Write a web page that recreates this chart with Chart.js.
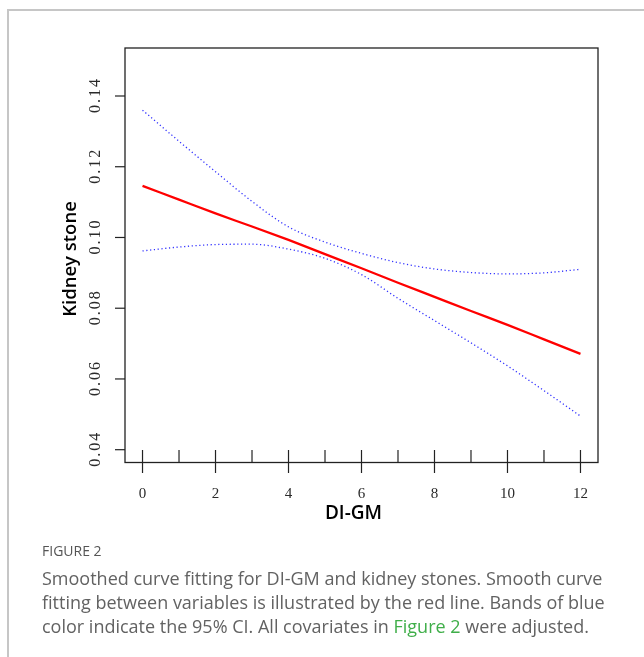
<!DOCTYPE html>
<html lang="en">
<head>
  <meta charset="UTF-8">
  <title>DI-GM and kidney stones</title>
  <script src="https://cdn.jsdelivr.net/npm/chart.js"></script>
  <style>
    html, body {
      margin: 0;
      padding: 0;
      background: #fff;
      width: 644px;
      height: 657px;
      overflow: hidden;
    }
    .frame {
      position: absolute;
      left: 7px;
      top: 9px;
      width: 700px;
      height: 700px;
      border-left: 2px solid #c6c6c6;
      border-top: 2px solid #c6c6c6;
    }
    #chart {
      position: absolute;
      left: 0;
      top: 0;
    }
    .caption {
      position: absolute;
      left: 42px;
      top: 541px;
      width: 600px;
      font-family: 'Open Sans', sans-serif;
      color: #626262;
    }
    .caption .label {
      font-size: 14px;
      line-height: 20px;
      color: #555;
    }
    .caption p {
      margin: 5px 0 0 0;
      font-size: 18px;
      line-height: 24px;
      font-weight: 400;
    }
    .caption a {
      color: #3fae49;
      text-decoration: none;
    }
  </style>
</head>
<body>
  <div class="frame"></div>
  <canvas id="chart" width="644" height="657"></canvas>

  <div class="caption">
    <div class="label">FIGURE 2</div>
    <p>Smoothed curve fitting for DI-GM and kidney stones. Smooth curve<br>
      fitting between variables is illustrated by the red line. Bands of blue<br>
      color indicate the 95% CI. All covariates in <a>Figure 2</a> were adjusted.</p>
  </div>

  <script>
    // values
    const diGm = [0, 1, 2, 3, 4, 5, 6, 7, 8, 9, 10, 11, 12];
    const fitted = [0.1146, 0.1107, 0.1068, 0.1031, 0.0993, 0.0953, 0.0913, 0.0872, 0.0832, 0.0792, 0.0753, 0.0712, 0.0671];
    const upperCI = [0.1360, 0.1272, 0.1186, 0.1102, 0.1030, 0.0987, 0.0955, 0.0929, 0.0911, 0.0901, 0.0897, 0.0900, 0.0910];
    const lowerCI = [0.0962, 0.0973, 0.0980, 0.0981, 0.0967, 0.0941, 0.0895, 0.0828, 0.0765, 0.0702, 0.0637, 0.0567, 0.0495];

    const xTicks = [0, 1, 2, 3, 4, 5, 6, 7, 8, 9, 10, 11, 12];
    const xTickLabels = ['0', '', '2', '', '4', '', '6', '', '8', '', '10', '', '12'];
    const yTicks = [0.04, 0.06, 0.08, 0.10, 0.12, 0.14];
    const yTickLabels = ['0.04', '0.06', '0.08', '0.10', '0.12', '0.14'];

    const toPoints = (ys) => diGm.map((x, i) => ({ x: x, y: ys[i] }));

    // box, ticks and labels drawn like the R base plot
    const rAxes = {
      id: 'rAxes',
      afterDraw(chart) {
        const ctx = chart.ctx;
        const area = chart.chartArea;
        const xs = chart.scales.x;
        const ys = chart.scales.y;
        ctx.save();

        ctx.strokeStyle = '#222';
        ctx.lineWidth = 1.3;
        ctx.strokeRect(area.left, area.top, area.right - area.left, area.bottom - area.top);

        // y ticks
        ctx.lineWidth = 1.2;
        ctx.fillStyle = '#2a2a2a';
        ctx.textAlign = 'center';
        ctx.textBaseline = 'middle';
        yTicks.forEach((v, i) => {
          const py = ys.getPixelForValue(v);
          ctx.beginPath();
          ctx.moveTo(area.left - 10, py);
          ctx.lineTo(area.left, py);
          ctx.stroke();
          ctx.save();
          ctx.translate(96, py);
          ctx.rotate(-Math.PI / 2);
          ctx.font = '16px "Liberation Serif", serif';
          ctx.letterSpacing = '2px';
          ctx.fillText(yTickLabels[i], 1, 0);
          ctx.restore();
        });

        // x ticks
        ctx.font = '15px "Liberation Serif", serif';
        xTicks.forEach((v, i) => {
          const px = xs.getPixelForValue(v);
          const major = xTickLabels[i] !== '';
          ctx.beginPath();
          ctx.moveTo(px, area.bottom - 12.5);
          ctx.lineTo(px, major ? area.bottom + 10.5 : area.bottom);
          ctx.stroke();
          if (major) {
            ctx.fillText(xTickLabels[i], px, area.bottom + 32);
          }
        });

        // axis titles
        ctx.fillStyle = '#000';
        ctx.font = '600 19px "Open Sans", sans-serif';
        ctx.fillText('DI-GM', 353.5, area.bottom + 51);

        ctx.save();
        ctx.translate(71, 259);
        ctx.rotate(-Math.PI / 2);
        ctx.font = '600 18.5px "Open Sans", sans-serif';
        ctx.fillText('Kidney stone', 0, 0);
        ctx.restore();

        ctx.restore();
      }
    };

    new Chart(document.getElementById('chart').getContext('2d'), {
      type: 'line',
      data: {
        datasets: [
          {
            label: 'Fitted',
            data: toPoints(fitted),
            borderColor: '#ff0000',
            borderWidth: 2.3,
            pointRadius: 0,
            cubicInterpolationMode: 'monotone',
            fill: false
          },
          {
            label: 'Upper 95% CI',
            data: toPoints(upperCI),
            borderColor: '#3030ff',
            borderWidth: 1.3,
            borderDash: [1.2, 2.6],
            pointRadius: 0,
            cubicInterpolationMode: 'monotone',
            fill: false
          },
          {
            label: 'Lower 95% CI',
            data: toPoints(lowerCI),
            borderColor: '#3030ff',
            borderWidth: 1.3,
            borderDash: [1.2, 2.6],
            pointRadius: 0,
            cubicInterpolationMode: 'monotone',
            fill: false
          }
        ]
      },
      options: {
        responsive: false,
        animation: false,
        layout: { padding: { left: 125, right: 46, top: 48, bottom: 194.5 } },
        scales: {
          x: { type: 'linear', min: -0.48, max: 12.48, display: false },
          y: { type: 'linear', min: 0.03638, max: 0.15357, display: false }
        },
        plugins: {
          legend: { display: false },
          tooltip: { enabled: false }
        }
      },
      plugins: [rAxes]
    });
  </script>
</body>
</html>
